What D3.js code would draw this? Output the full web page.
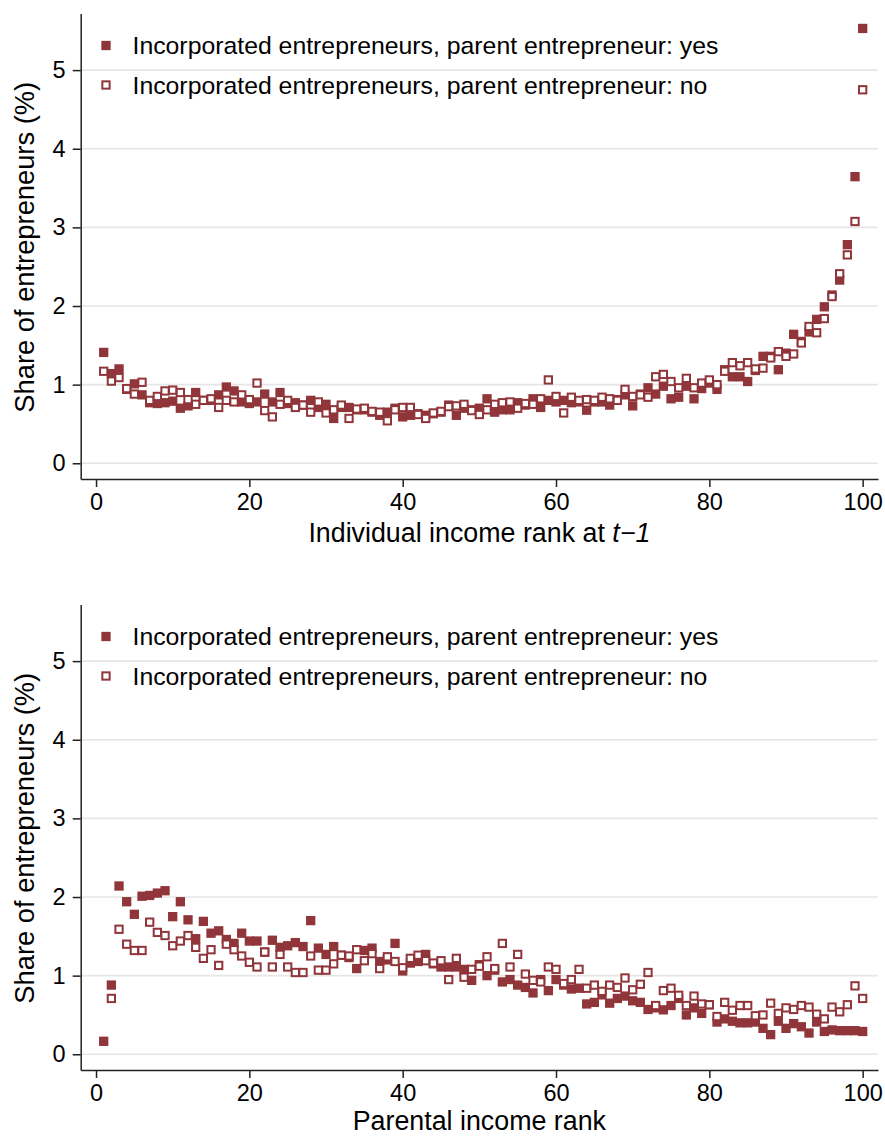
<!DOCTYPE html>
<html>
<head>
<meta charset="utf-8">
<script src="https://cdn.jsdelivr.net/npm/d3@7"></script>
<style>
  body { margin: 0; background: #fff; }
  text { font-family: "Liberation Sans", Arial, Helvetica, sans-serif; fill: #000; }
</style>
</head>
<body>
<div id="vis"></div>
<script>

var ranks = d3.range(1, 101);
var x_ticks = [0, 20, 40, 60, 80, 100];
var y_ticks = [0, 1, 2, 3, 4, 5];
var legend_labels = ["Incorporated entrepreneurs, parent entrepreneur: yes",
  "Incorporated entrepreneurs, parent entrepreneur: no"];
var y_title = "Share of entrepreneurs (%)";

// top panel: by own income rank at t-1
var indiv_yes = [1.41, 1.14, 1.20, 0.94, 1.01, 0.87, 0.77, 0.76, 0.77, 0.79,
  0.70, 0.73, 0.90, 0.80, 0.80, 0.87, 0.97, 0.92, 0.78, 0.76,
  0.78, 0.88, 0.78, 0.90, 0.76, 0.77, 0.74, 0.80, 0.71, 0.75,
  0.57, 0.71, 0.71, 0.68, 0.68, 0.65, 0.61, 0.65, 0.70, 0.59,
  0.61, 0.63, 0.61, 0.63, 0.65, 0.74, 0.61, 0.70, 0.68, 0.70,
  0.82, 0.65, 0.68, 0.68, 0.77, 0.74, 0.82, 0.71, 0.80, 0.78,
  0.80, 0.77, 0.78, 0.675, 0.78, 0.78, 0.74, 0.81, 0.87, 0.73,
  0.88, 0.96, 0.88, 0.98, 0.82, 0.84, 0.98, 0.82, 0.95, 1.02,
  0.94, 1.19, 1.10, 1.10, 1.04, 1.18, 1.36, 1.36, 1.19, 1.40,
  1.64, 1.55, 1.67, 1.83, 1.99, 2.14, 2.33, 2.78, 3.645, 5.53];
var indiv_no = [1.17, 1.045, 1.09, 0.95, 0.88, 1.03, 0.80, 0.85, 0.92, 0.93,
  0.90, 0.81, 0.75, 0.80, 0.82, 0.71, 0.80, 0.78, 0.87, 0.81,
  1.02, 0.67, 0.59, 0.75, 0.80, 0.71, 0.74, 0.65, 0.78, 0.64,
  0.68, 0.74, 0.57, 0.69, 0.70, 0.66, 0.65, 0.54, 0.68, 0.71,
  0.71, 0.62, 0.57, 0.64, 0.66, 0.72, 0.73, 0.75, 0.67, 0.62,
  0.68, 0.75, 0.77, 0.78, 0.70, 0.76, 0.75, 0.82, 1.06, 0.85,
  0.64, 0.84, 0.80, 0.81, 0.80, 0.84, 0.82, 0.80, 0.94, 0.85,
  0.87, 0.84, 1.10, 1.13, 1.04, 0.96, 1.08, 0.96, 1.02, 1.06,
  1.00, 1.17, 1.28, 1.24, 1.28, 1.20, 1.21, 1.34, 1.42, 1.36,
  1.39, 1.53, 1.74, 1.66, 1.84, 2.12, 2.41, 2.65, 3.075, 4.75];

// bottom panel: by parental income rank (rank 1, "no" not visible)
var parent_yes = [0.165, 0.88, 2.14, 1.94, 1.78, 2.01, 2.02, 2.05, 2.08, 1.75,
  1.94, 1.71, 1.47, 1.69, 1.54, 1.57, 1.46, 1.41, 1.54, 1.44,
  1.44, 1.30, 1.45, 1.36, 1.38, 1.42, 1.37, 1.70, 1.35, 1.27,
  1.37, 1.26, 1.23, 1.09, 1.32, 1.35, 1.18, 1.20, 1.41, 1.06,
  1.16, 1.18, 1.27, 1.15, 1.11, 1.11, 1.11, 1.08, 0.94, 1.14,
  1.00, 1.07, 0.92, 0.95, 0.88, 0.85, 0.78, 0.95, 0.81, 0.95,
  0.88, 0.83, 0.84, 0.64, 0.66, 0.755, 0.65, 0.71, 0.74, 0.68,
  0.66, 0.57, 0.59, 0.565, 0.62, 0.71, 0.50, 0.59, 0.52, 0.63,
  0.41, 0.45, 0.42, 0.40, 0.40, 0.41, 0.33, 0.25, 0.42, 0.33,
  0.39, 0.35, 0.27, 0.41, 0.29, 0.31, 0.30, 0.30, 0.30, 0.29];
var parent_no = [null, 0.71, 1.59, 1.40, 1.32, 1.32, 1.68, 1.55, 1.51, 1.38,
  1.44, 1.51, 1.36, 1.22, 1.33, 1.13, 1.40, 1.33, 1.25, 1.17,
  1.11, 1.30, 1.11, 1.27, 1.11, 1.04, 1.04, 1.25, 1.07, 1.07,
  1.15, 1.26, 1.25, 1.33, 1.19, 1.28, 1.09, 1.24, 1.18, 1.10,
  1.22, 1.26, 1.19, 1.16, 1.19, 0.95, 1.22, 0.98, 1.08, 1.12,
  1.24, 1.09, 1.41, 1.11, 1.27, 1.02, 0.94, 0.92, 1.11, 1.08,
  0.90, 0.95, 1.08, 0.84, 0.88, 0.80, 0.88, 0.85, 0.97, 0.82,
  0.89, 1.04, 0.62, 0.81, 0.84, 0.75, 0.62, 0.74, 0.64, 0.63,
  0.48, 0.66, 0.56, 0.62, 0.62, 0.49, 0.50, 0.65, 0.52, 0.59,
  0.57, 0.62, 0.60, 0.51, 0.45, 0.60, 0.54, 0.63, 0.87, 0.71];

var color = "#903539";
var grid_color = "#e6e6e6";
var marker_size = 9.3;

var totalWidth = 885;
var totalHeight = 1136;

var plot = {left: 80.7, right: 878, top: 13.5, height: 465.5};
var panel_offset = 591;

var svg = d3.select("#vis").append("svg")
  .attr("width", totalWidth)
  .attr("height", totalHeight);

var x_scale = d3.scaleLinear()
  .domain([-2, 102])
  .range([plot.left, plot.right]);

function draw_panel(top, yes_vals, no_vals, x_title, italic_tail, title_gap){
  var y_scale = d3.scaleLinear()
    .domain([-0.2, 5.72])
    .range([top + plot.height, top]);

  var g = svg.append("g");

  // gridlines
  g.selectAll(".grid")
    .data(y_ticks)
    .enter().append("line")
    .attr("class", "grid")
    .attr("x1", plot.left)
    .attr("x2", plot.right)
    .attr("y1", d=>y_scale(d))
    .attr("y2", d=>y_scale(d))
    .attr("stroke", grid_color)
    .attr("stroke-width", 1.6);

  var y_axis = g.append("g")
    .attr("transform", "translate(" + plot.left + ",0)")
    .call(d3.axisLeft(y_scale).tickValues(y_ticks).tickFormat(d3.format("d"))
      .tickSize(8).tickSizeOuter(0).tickPadding(7));
  var x_axis = g.append("g")
    .attr("transform", "translate(0," + (top + plot.height) + ")")
    .call(d3.axisBottom(x_scale).tickValues(x_ticks).tickFormat(d3.format("d"))
      .tickSize(8).tickSizeOuter(0).tickPadding(5.5));

  [y_axis, x_axis].forEach(function(ax){
    ax.select(".domain").attr("stroke", "#222").attr("stroke-width", 1.5);
    ax.selectAll(".tick line").attr("stroke", "#222").attr("stroke-width", 1.5);
    ax.selectAll(".tick text")
      .style("font-family", "'Liberation Sans', Arial, sans-serif")
      .style("font-size", "23.5px")
      .attr("fill", "#000");
  });
  x_axis.selectAll(".tick text").attr("dy", "0.74em");

  // y title
  g.append("text")
    .attr("transform", "translate(33.5," + (top + plot.height / 2 + 1) + ") rotate(-90)")
    .attr("text-anchor", "middle")
    .style("font-size", "27.3px")
    .text(y_title);

  // x title
  var xt = g.append("text")
    .attr("x", (plot.left + plot.right) / 2)
    .attr("y", top + plot.height + title_gap)
    .attr("text-anchor", "middle")
    .style("font-size", "26.8px");
  xt.append("tspan").text(x_title);
  if (italic_tail) {
    xt.append("tspan").style("font-style", "italic").text(italic_tail);
  }

  // filled markers (parent entrepreneur: yes)
  g.selectAll(".yes")
    .data(ranks.filter((d, i)=>yes_vals[i] != null))
    .enter().append("rect")
    .attr("class", "yes")
    .attr("x", d=>x_scale(d) - marker_size / 2)
    .attr("y", d=>y_scale(yes_vals[d - 1]) - marker_size / 2)
    .attr("width", marker_size)
    .attr("height", marker_size)
    .attr("fill", color);

  // hollow markers (parent entrepreneur: no)
  var inner = marker_size - 2;
  g.selectAll(".no")
    .data(ranks.filter((d, i)=>no_vals[i] != null))
    .enter().append("rect")
    .attr("class", "no")
    .attr("x", d=>x_scale(d) - inner / 2)
    .attr("y", d=>y_scale(no_vals[d - 1]) - inner / 2)
    .attr("width", inner)
    .attr("height", inner)
    .attr("fill", "#fff")
    .attr("stroke", color)
    .attr("stroke-width", 2);

  // legend
  var legend = g.selectAll(".legend")
    .data(legend_labels)
    .enter().append("g")
    .attr("class", "legend")
    .attr("transform", (d, i)=>"translate(106," + (top + 32 + i * 39.5) + ")");
  legend.append("rect")
    .attr("x", (d, i)=>i == 0 ? -marker_size / 2 : -inner / 2)
    .attr("y", (d, i)=>i == 0 ? -marker_size / 2 : -inner / 2)
    .attr("width", (d, i)=>i == 0 ? marker_size : inner)
    .attr("height", (d, i)=>i == 0 ? marker_size : inner)
    .attr("fill", (d, i)=>i == 0 ? color : "#fff")
    .attr("stroke", (d, i)=>i == 0 ? "none" : color)
    .attr("stroke-width", 2);
  legend.append("text")
    .attr("x", 26.5)
    .attr("dy", "0.36em")
    .style("font-size", "24.8px")
    .text(d=>d);
}

draw_panel(plot.top, indiv_yes, indiv_no, "Individual income rank at ", "t\u22121", 62.5);
draw_panel(plot.top + panel_offset, parent_yes, parent_no, "Parental income rank", null, 60.3);

</script>
</body>
</html>
